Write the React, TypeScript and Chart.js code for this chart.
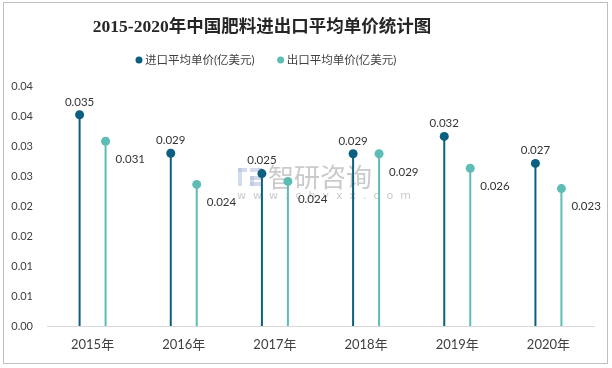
import React, { useEffect, useRef } from "react";
import { Chart, registerables } from "chart.js";

Chart.register(...registerables);

const TITLE = "2015-2020年中国肥料进出口平均单价统计图";
const categories = ["2015年", "2016年", "2017年", "2018年", "2019年", "2020年"];
const seriesNames = ["进口平均单价(亿美元)", "出口平均单价(亿美元)"];
const importPrice = [0.035, 0.029, 0.025, 0.029, 0.032, 0.027];
const exportPrice = [0.031, 0.024, 0.024, 0.029, 0.026, 0.023];
// dot heights (the labels show the rounded values)
const importHeight = [0.0352, 0.0288, 0.0254, 0.0287, 0.0316, 0.0271];
const exportHeight = [0.0308, 0.0236, 0.0241, 0.0287, 0.0263, 0.0229];
const yTickLabels = ["0.00", "0.01", "0.01", "0.02", "0.02", "0.03", "0.03", "0.04", "0.04"];

const IMPORT_COLOR = "#0b5f80";
const EXPORT_COLOR = "#5dbdb4";
const LABEL_FONT = "Lato, 'Noto Sans', sans-serif";
const MIXED_FONT = "Lato, 'Noto Sans CJK SC', sans-serif";

const lollipopPlugin = {
  id: "lollipop",
  afterDatasetsDraw(chart: any) {
    const ctx = chart.ctx;
    ctx.save();
    chart.data.datasets.forEach((ds: any, di: number) => {
      const meta = chart.getDatasetMeta(di);
      meta.data.forEach((bar: any, i: number) => {
        ctx.beginPath();
        ctx.fillStyle = ds.backgroundColor;
        ctx.arc(bar.x, bar.y, 4.5, 0, Math.PI * 2);
        ctx.fill();
        const text = ds.labelValues[i].toFixed(3);
        ctx.fillStyle = "#333333";
        ctx.font = "11.5px " + LABEL_FONT;
        ctx.textBaseline = "middle";
        if (di === 0) {
          ctx.textAlign = "center";
          ctx.fillText(text, bar.x, bar.y - 13);
        } else {
          ctx.textAlign = "left";
          ctx.fillText(text, bar.x + 10, bar.y + 18);
        }
      });
    });
    ctx.restore();
  },
};

const headerPlugin = {
  id: "header",
  afterDraw(chart: any) {
    const ctx = chart.ctx;
    ctx.save();
    // title
    ctx.fillStyle = "#262626";
    ctx.font = "bold 17.5px 'Liberation Serif', 'Noto Sans CJK SC', serif";
    ctx.textAlign = "center";
    ctx.textBaseline = "middle";
    ctx.fillText(TITLE, 262, 27);
    // legend
    ctx.font = "11.5px " + MIXED_FONT;
    ctx.textAlign = "left";
    const gap = 22;
    let x = 135;
    chart.data.datasets.forEach((ds: any) => {
      const w = ctx.measureText(ds.label).width;
      ctx.beginPath();
      ctx.fillStyle = ds.backgroundColor;
      ctx.arc(x + 4, 60, 3.5, 0, Math.PI * 2);
      ctx.fill();
      ctx.fillStyle = "#404040";
      ctx.fillText(ds.label, x + 10, 60);
      x += 10 + w + gap;
    });
    ctx.restore();
  },
};

const watermarkPlugin = {
  id: "watermark",
  beforeDatasetsDraw(chart: any) {
    const ctx = chart.ctx;
    ctx.save();
    ctx.fillStyle = "rgba(150,150,150,0.5)";
    ctx.textAlign = "left";
    ctx.textBaseline = "middle";
    ctx.font = "26px 'Noto Sans CJK SC', sans-serif";
    ctx.fillText("智研咨询", 268, 177);
    ctx.font = "11px 'DejaVu Sans', sans-serif";
    ctx.fillText("w  w  w  .  c  h  y  x  x  .  c  o  m", 237, 196);
    ctx.fillStyle = "rgba(175,190,220,0.55)";
    ctx.fillRect(238, 168, 9, 4);
    ctx.fillRect(238, 168, 4, 18);
    ctx.fillRect(250, 168, 12, 4);
    ctx.fillRect(258, 168, 4, 10);
    ctx.fillRect(250, 176, 12, 4);
    ctx.fillRect(250, 176, 4, 10);
    ctx.fillRect(250, 182, 12, 4);
    ctx.restore();
  },
};

export default function App() {
  const canvasRef = useRef<HTMLCanvasElement | null>(null);

  useEffect(() => {
    if (!canvasRef.current) return;
    const makeSeries = (label: string, heights: number[], values: number[], color: string) =>
      ({
        label,
        data: heights,
        labelValues: values,
        backgroundColor: color,
        borderColor: color,
        maxBarThickness: 2,
        categoryPercentage: 0.57,
        barPercentage: 1,
      } as any);
    const chart = new Chart(canvasRef.current, {
      type: "bar",
      data: {
        labels: categories,
        datasets: [
          makeSeries(seriesNames[0], importHeight, importPrice, IMPORT_COLOR),
          makeSeries(seriesNames[1], exportHeight, exportPrice, EXPORT_COLOR),
        ],
      },
      options: {
        responsive: false,
        animation: false,
        layout: { padding: { top: 86, right: 18, bottom: 15, left: 0 } },
        plugins: {
          title: { display: false },
          legend: { display: false },
          tooltip: { enabled: false },
        },
        scales: {
          x: {
            grid: { display: false, drawTicks: false },
            border: { display: true, color: "#d9d9d9", width: 1 },
            ticks: {
              color: "#404040",
              font: { family: MIXED_FONT, size: 13 },
              padding: 11,
            },
            afterFit: (scale: any) => {
              scale.height = 27;
            },
          },
          y: {
            min: 0,
            max: 0.04,
            grid: { display: false, drawTicks: false },
            border: { display: false },
            ticks: {
              stepSize: 0.005,
              color: "#404040",
              font: { family: LABEL_FONT, size: 11 },
              padding: 14,
              callback: (_v: any, i: number) => yTickLabels[i],
            },
            afterFit: (scale: any) => {
              scale.width = 47;
            },
          },
        },
      },
      plugins: [watermarkPlugin, lollipopPlugin, headerPlugin],
    });
    return () => chart.destroy();
  }, []);

  return (
    <div style={{ position: "absolute", left: 0, top: 0, width: 612, height: 368, background: "#ffffff" }}>
      <canvas ref={canvasRef} width={612} height={368} style={{ position: "absolute", left: 0, top: 0 }} />
      <div
        style={{
          position: "absolute",
          left: 3,
          top: 2,
          width: 603,
          height: 360,
          border: "1px solid #bfbfbf",
          pointerEvents: "none",
        }}
      />
    </div>
  );
}
